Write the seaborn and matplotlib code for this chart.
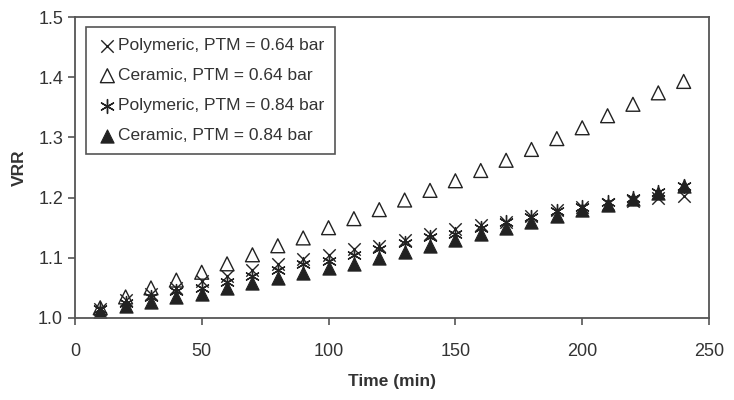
import matplotlib
matplotlib.use('Agg')
import matplotlib.pyplot as plt
import seaborn as sns
import pandas as pd

# Data
time_min = [10, 20, 30, 40, 50, 60, 70, 80, 90, 100, 110, 120,
            130, 140, 150, 160, 170, 180, 190, 200, 210, 220, 230, 240]
poly_064 = [1.015, 1.030, 1.040, 1.050, 1.062, 1.070, 1.080, 1.090, 1.098, 1.105, 1.115, 1.120,
            1.130, 1.140, 1.148, 1.155, 1.160, 1.170, 1.180, 1.185, 1.190, 1.195, 1.200, 1.203]
cer_064 = [1.017, 1.035, 1.050, 1.063, 1.076, 1.090, 1.105, 1.120, 1.133, 1.150, 1.165, 1.180,
           1.196, 1.212, 1.228, 1.245, 1.262, 1.280, 1.298, 1.316, 1.336, 1.355, 1.374, 1.393]
poly_084 = [1.015, 1.025, 1.035, 1.045, 1.050, 1.060, 1.070, 1.080, 1.090, 1.095, 1.105, 1.115,
            1.125, 1.135, 1.140, 1.150, 1.160, 1.168, 1.178, 1.185, 1.192, 1.200, 1.210, 1.220]
cer_084 = [1.010, 1.020, 1.027, 1.035, 1.040, 1.050, 1.058, 1.067, 1.075, 1.083, 1.090, 1.100,
           1.110, 1.120, 1.130, 1.140, 1.150, 1.160, 1.170, 1.180, 1.187, 1.197, 1.208, 1.220]
labels = ['Polymeric, PTM = 0.64 bar', 'Ceramic, PTM = 0.64 bar',
          'Polymeric, PTM = 0.84 bar', 'Ceramic, PTM = 0.84 bar']

frames = []
for lab, vals in zip(labels, [poly_064, cer_064, poly_084, cer_084]):
    frames.append(pd.DataFrame({'Time': time_min, 'VRR': vals, 'series': lab}))
df = pd.concat(frames)

sns.set_style('ticks')
plt.rcParams['font.family'] = ['Liberation Sans', 'DejaVu Sans']

ink = '#222222'
spine = '#555555'
styles = {
    labels[0]: dict(marker='x', s=80, color=ink, linewidths=1.0),
    labels[1]: dict(marker='^', s=100, facecolors='none', edgecolors=ink, linewidths=1.0),
    labels[2]: dict(marker=(6, 2, 0), s=100, color=ink, linewidths=1.0),
    labels[3]: dict(marker='^', s=90, color=ink, edgecolors=ink, linewidths=0.8),
}

fig = plt.figure(figsize=(7.34, 4), dpi=100)
ax = fig.add_axes([0.102, 0.205, 0.864, 0.7525])
for lab in labels:
    sub = df[df['series'] == lab]
    sns.scatterplot(data=sub, x='Time', y='VRR', ax=ax, label=lab, **styles[lab])

ax.set_xlim(0, 250)
ax.set_ylim(1.0, 1.5)
ax.set_xticks([0, 50, 100, 150, 200, 250])
ax.set_yticks([1.0, 1.1, 1.2, 1.3, 1.4, 1.5])
ax.set_yticklabels(['1.0', '1.1', '1.2', '1.3', '1.4', '1.5'])
ax.tick_params(axis='both', labelsize=13, colors=spine, labelcolor='#333333',
               direction='out', length=5, width=1.2)
ax.tick_params(axis='x', pad=13)
for s in ax.spines.values():
    s.set_visible(True)
    s.set_color(spine)
    s.set_linewidth(1.3)

ax.set_xlabel('Time (min)', fontsize=12.5, fontweight='bold', color='#333333', labelpad=10)
ax.set_ylabel('VRR', fontsize=12.5, fontweight='bold', color='#333333', labelpad=8)

leg = ax.legend(loc='upper left', bbox_to_anchor=(0.017, 0.967), borderaxespad=0,
                fontsize=12.5, frameon=True, fancybox=False, framealpha=1,
                edgecolor=spine, handletextpad=0.0, handlelength=1.2,
                labelspacing=0.85, borderpad=0.65, labelcolor='#333333')
leg.get_frame().set_linewidth(1.2)

plt.savefig('out.png', dpi=100)
